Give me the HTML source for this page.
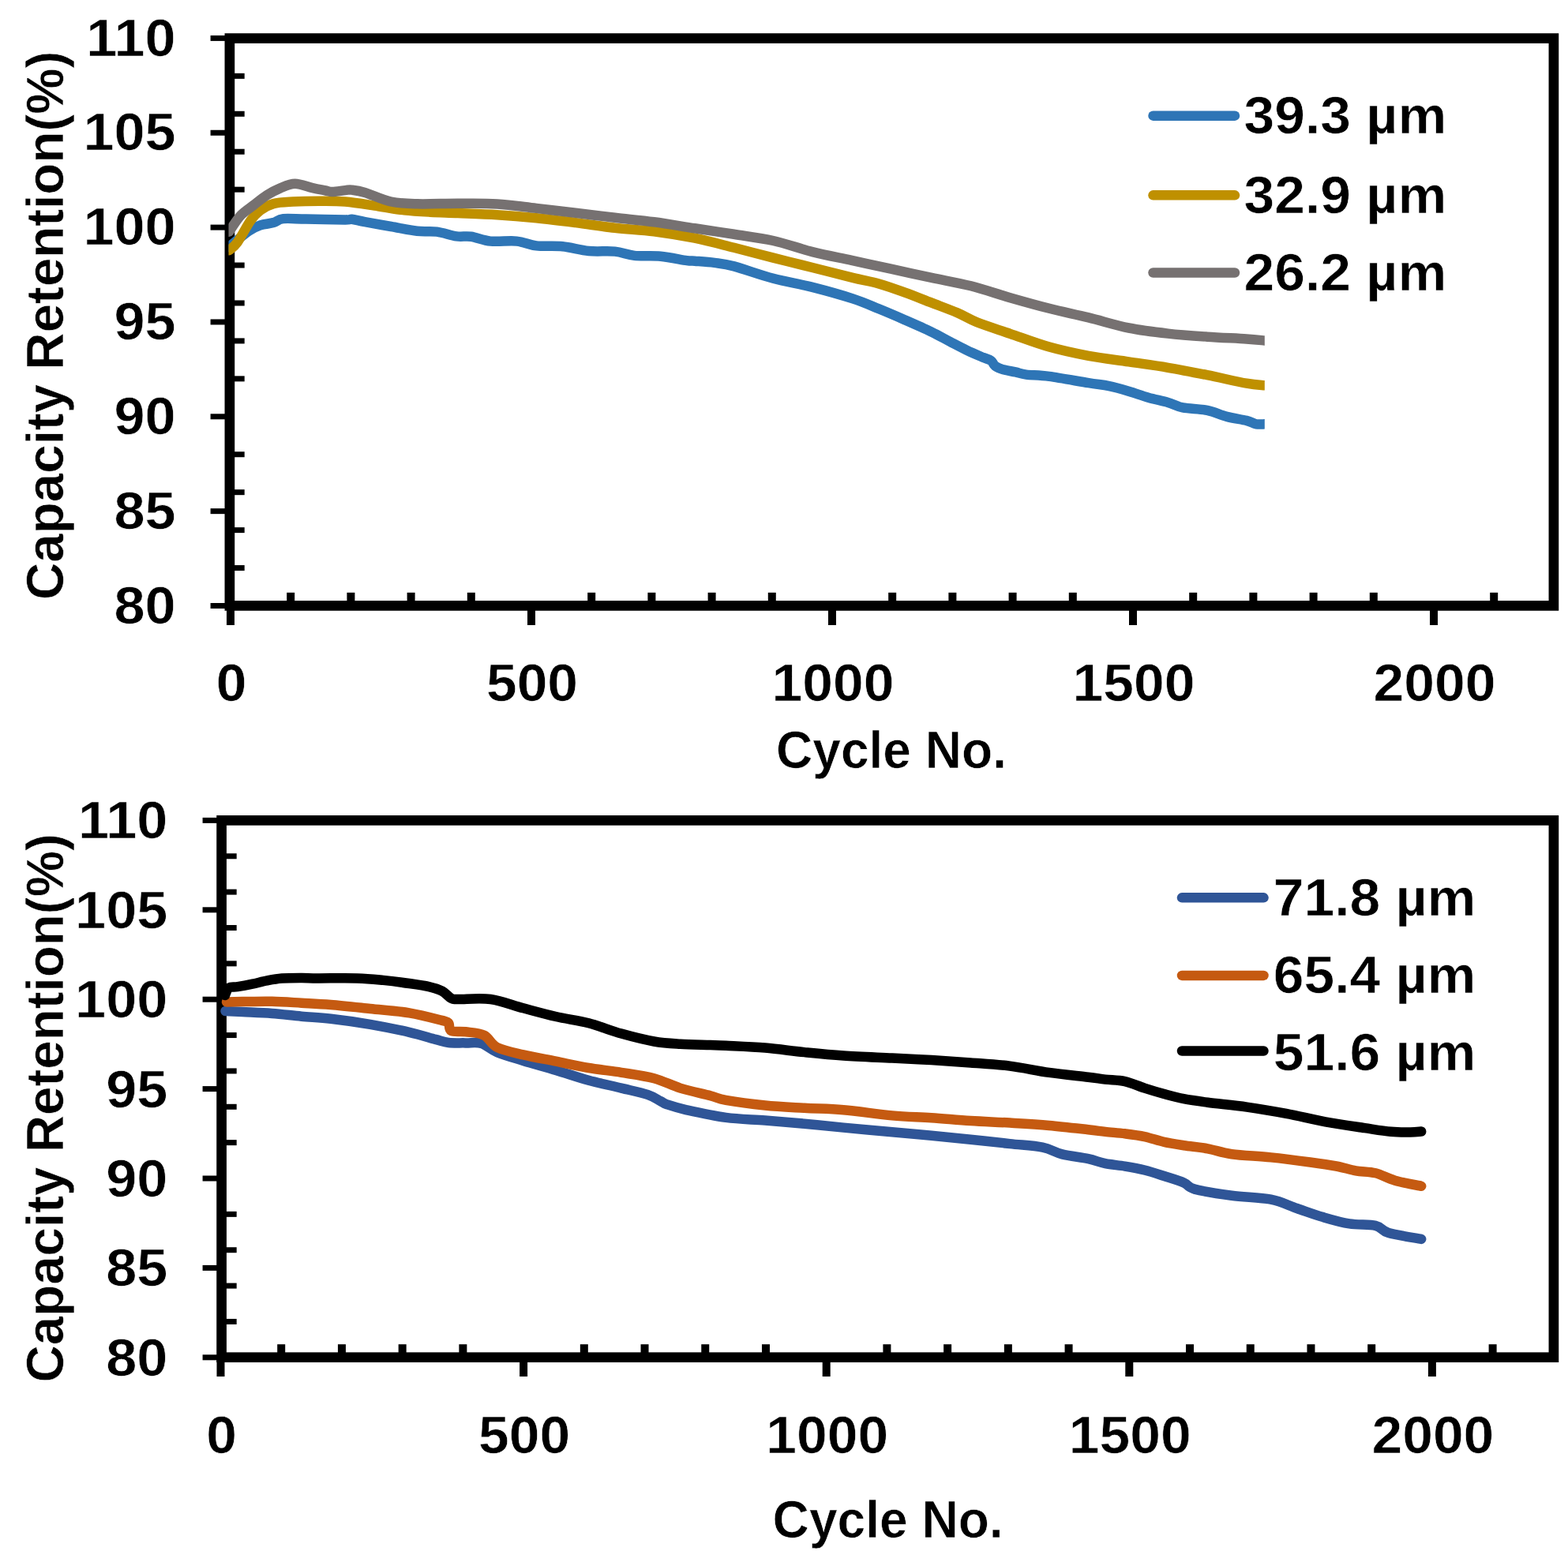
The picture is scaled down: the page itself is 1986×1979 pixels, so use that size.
<!DOCTYPE html>
<html><head><meta charset="utf-8"><title>Capacity retention vs cycle number</title>
<style>
html,body{margin:0;padding:0;background:#fff;}
body{width:1986px;height:1979px;overflow:hidden;}
svg{display:block;}
.t{font-family:'Liberation Sans', 'DejaVu Sans', sans-serif;font-weight:bold;font-size:66px;fill:#000;stroke:#fff;stroke-width:0.6px;paint-order:fill stroke;}
</style></head>
<body>
<svg width="1986" height="1979" viewBox="0 0 1986 1979">
<rect width="1986" height="1979" fill="#fff"/>
<rect x="290.9" y="716.06" width="18.8" height="7"/>
<rect x="290.9" y="668.12" width="18.8" height="7"/>
<rect x="290.9" y="620.18" width="18.8" height="7"/>
<rect x="290.9" y="572.24" width="18.8" height="7"/>
<rect x="290.9" y="476.36" width="18.8" height="7"/>
<rect x="290.9" y="428.42" width="18.8" height="7"/>
<rect x="290.9" y="380.48" width="18.8" height="7"/>
<rect x="290.9" y="332.54" width="18.8" height="7"/>
<rect x="290.9" y="236.66" width="18.8" height="7"/>
<rect x="290.9" y="188.72" width="18.8" height="7"/>
<rect x="290.9" y="140.78" width="18.8" height="7"/>
<rect x="290.9" y="92.84" width="18.8" height="7"/>
<rect x="266.6" y="764" width="24.3" height="7"/>
<rect x="266.6" y="644.15" width="24.3" height="7"/>
<rect x="266.6" y="524.3" width="24.3" height="7"/>
<rect x="266.6" y="404.45" width="24.3" height="7"/>
<rect x="266.6" y="284.6" width="24.3" height="7"/>
<rect x="266.6" y="164.75" width="24.3" height="7"/>
<rect x="266.6" y="44.9" width="24.3" height="7"/>
<rect x="363.2" y="750.8" width="10" height="16.6"/>
<rect x="439.4" y="750.8" width="10" height="16.6"/>
<rect x="515.6" y="750.8" width="10" height="16.6"/>
<rect x="591.8" y="750.8" width="10" height="16.6"/>
<rect x="744.2" y="750.8" width="10" height="16.6"/>
<rect x="820.4" y="750.8" width="10" height="16.6"/>
<rect x="896.6" y="750.8" width="10" height="16.6"/>
<rect x="972.8" y="750.8" width="10" height="16.6"/>
<rect x="1125.2" y="750.8" width="10" height="16.6"/>
<rect x="1201.4" y="750.8" width="10" height="16.6"/>
<rect x="1277.6" y="750.8" width="10" height="16.6"/>
<rect x="1353.8" y="750.8" width="10" height="16.6"/>
<rect x="1506.2" y="750.8" width="10" height="16.6"/>
<rect x="1582.4" y="750.8" width="10" height="16.6"/>
<rect x="1658.6" y="750.8" width="10" height="16.6"/>
<rect x="1734.8" y="750.8" width="10" height="16.6"/>
<rect x="1887.2" y="750.8" width="10" height="16.6"/>
<rect x="287" y="767.4" width="10" height="24.6"/>
<rect x="668" y="767.4" width="10" height="24.6"/>
<rect x="1049" y="767.4" width="10" height="24.6"/>
<rect x="1430" y="767.4" width="10" height="24.6"/>
<rect x="1811" y="767.4" width="10" height="24.6"/>
<rect x="290.9" y="48.55" width="1677" height="718.85" fill="none" stroke="#000" stroke-width="12.7"/>
<clipPath id="ct"><rect x="289.5" y="0" width="1312.3" height="1979"/></clipPath>
<g clip-path="url(#ct)">
<path d="M290,313 C294.13,309.65 308.18,297.5 314.8,292.9 C321.42,288.3 324.45,287.2 329.7,285.4 C334.95,283.6 341.47,283.48 346.3,282.1 C351.13,280.72 351.8,277.85 358.7,277.1 C365.6,276.35 374.6,277.38 387.7,277.6 C400.8,277.82 427.65,278.37 437.3,278.4 C446.95,278.43 441.45,277.33 445.6,277.8 C449.75,278.27 453.92,279.67 462.2,281.2 C470.48,282.73 484.27,285.07 495.3,287 C506.33,288.93 518.73,291.7 528.4,292.8 C538.07,293.9 545.02,292.5 553.3,293.6 C561.58,294.7 570.88,298.37 578.1,299.4 C585.32,300.43 589.38,298.77 596.6,299.8 C603.82,300.83 611.75,304.63 621.4,305.6 C631.05,306.57 644.83,304.63 654.5,305.6 C664.17,306.57 669.73,310.28 679.4,311.4 C689.07,312.52 701.47,311.2 712.5,312.3 C723.53,313.4 734.55,316.95 745.6,318 C756.65,319.05 769.13,317.62 778.8,318.6 C788.47,319.58 793.95,322.88 803.6,323.9 C813.25,324.92 825.65,323.67 836.7,324.7 C847.75,325.73 862.68,329.1 869.9,330.1 C877.12,331.1 874.18,330.23 880,330.7 C885.82,331.17 896.52,331.78 904.8,332.9 C913.08,334.02 917.27,334.08 929.7,337.4 C942.13,340.72 962.85,348.38 979.4,352.8 C995.95,357.22 1012.23,359.63 1029,363.9 C1045.77,368.17 1065.98,373.83 1080,378.4 C1094.02,382.97 1102.05,386.8 1113.1,391.3 C1124.15,395.8 1135.25,400.57 1146.3,405.4 C1157.35,410.23 1169.87,415.7 1179.4,420.3 C1188.93,424.9 1196.03,429.12 1203.5,433 C1210.97,436.88 1217.3,440.3 1224.2,443.6 C1231.1,446.9 1239.72,450.57 1244.9,452.8 C1250.08,455.03 1252.7,455.18 1255.3,457 C1257.9,458.82 1257.92,461.82 1260.5,463.7 C1263.08,465.58 1266.5,467.02 1270.8,468.3 C1275.1,469.58 1281.47,470.35 1286.3,471.4 C1291.13,472.45 1292.68,473.68 1299.8,474.6 C1306.92,475.52 1315.83,475.13 1329,476.9 C1342.17,478.67 1366.17,483.17 1378.8,485.2 C1391.43,487.23 1396.32,487.35 1404.8,489.1 C1413.28,490.85 1421.42,493.27 1429.7,495.7 C1437.98,498.13 1446.22,501.33 1454.5,503.7 C1462.78,506.07 1472.15,507.78 1479.4,509.9 C1486.65,512.02 1489.73,514.73 1498,516.4 C1506.27,518.07 1519.68,517.98 1529,519.9 C1538.32,521.82 1545.6,525.73 1553.9,527.9 C1562.2,530.07 1572.58,531.33 1578.8,532.9 C1585.02,534.47 1587.37,536.57 1591.2,537.3 C1595.03,538.03 1600.03,537.3 1601.8,537.3" fill="none" stroke="#2E75B6" stroke-width="12.5" stroke-linejoin="round" stroke-linecap="round"/>
<path d="M290,317.3 C291.78,315.58 296.15,313.28 300.7,307 C305.25,300.72 312.47,286.37 317.3,279.6 C322.13,272.83 324.87,269.98 329.7,266.4 C334.53,262.82 339.4,259.9 346.3,258.1 C353.2,256.3 361.45,256.15 371.1,255.6 C380.75,255.05 393.17,254.8 404.2,254.8 C415.23,254.8 424.87,254.52 437.3,255.6 C449.73,256.68 466.37,259.52 478.8,261.3 C491.23,263.08 500.87,265.07 511.9,266.3 C522.93,267.53 533.65,268.08 545,268.7 C556.35,269.32 565.88,269.42 580,270 C594.12,270.58 613.13,271.15 629.7,272.2 C646.27,273.25 662.85,274.65 679.4,276.3 C695.95,277.95 712.43,280.03 729,282.1 C745.57,284.17 762.23,286.85 778.8,288.7 C795.37,290.55 811.53,291.03 828.4,293.2 C845.27,295.37 863.12,298.27 880,301.7 C896.88,305.13 913.13,309.65 929.7,313.8 C946.27,317.95 962.85,322.4 979.4,326.6 C995.95,330.8 1012.23,334.78 1029,339 C1045.77,343.22 1065.98,348.5 1080,351.9 C1094.02,355.3 1102.05,356.28 1113.1,359.4 C1124.15,362.52 1135.25,366.6 1146.3,370.6 C1157.35,374.6 1168.37,379.12 1179.4,383.4 C1190.43,387.68 1202.83,392.15 1212.5,396.3 C1222.17,400.45 1226.25,403.88 1237.4,408.3 C1248.55,412.72 1264.13,417.58 1279.4,422.8 C1294.67,428.02 1312.43,434.92 1329,439.6 C1345.57,444.28 1362.02,447.77 1378.8,450.9 C1395.58,454.03 1412.93,455.92 1429.7,458.4 C1446.47,460.88 1462.85,463 1479.4,465.8 C1495.95,468.6 1512.43,471.88 1529,475.2 C1545.57,478.52 1566.67,483.52 1578.8,485.7 C1590.93,487.88 1597.97,487.87 1601.8,488.3" fill="none" stroke="#BF9000" stroke-width="12.5" stroke-linejoin="round" stroke-linecap="round"/>
<path d="M290,293.7 C292.47,290.25 299.57,278.65 304.8,273 C310.03,267.35 315.87,264.08 321.4,259.8 C326.93,255.52 332.48,250.83 338,247.3 C343.52,243.77 348.57,241.02 354.5,238.6 C360.43,236.18 366.7,232.87 373.6,232.8 C380.5,232.73 389.42,236.75 395.9,238.2 C402.38,239.65 408.35,240.68 412.5,241.5 C416.65,242.32 416.67,243.17 420.8,243.1 C424.93,243.03 433.17,241.52 437.3,241.1 C441.43,240.68 441.45,240.13 445.6,240.6 C449.75,241.07 453.92,241.42 462.2,243.9 C470.48,246.38 484.27,253.1 495.3,255.5 C506.33,257.9 514.28,257.92 528.4,258.3 C542.52,258.68 563.12,257.78 580,257.8 C596.88,257.82 613.13,257.38 629.7,258.4 C646.27,259.42 662.85,262.02 679.4,263.9 C695.95,265.78 712.43,267.72 729,269.7 C745.57,271.68 762.23,273.87 778.8,275.8 C795.37,277.73 811.53,279.05 828.4,281.3 C845.27,283.55 863.12,286.72 880,289.3 C896.88,291.88 913.13,294.18 929.7,296.8 C946.27,299.42 962.85,301.28 979.4,305 C995.95,308.72 1012.43,314.95 1029,319.1 C1045.57,323.25 1062.23,326.3 1078.8,329.9 C1095.37,333.5 1111.53,337.03 1128.4,340.7 C1145.27,344.37 1163.12,348.3 1180,351.9 C1196.88,355.5 1213.13,358.08 1229.7,362.3 C1246.27,366.52 1262.85,372.45 1279.4,377.2 C1295.95,381.95 1312.43,386.6 1329,390.8 C1345.57,395 1362.02,398.28 1378.8,402.4 C1395.58,406.52 1412.93,412.13 1429.7,415.5 C1446.47,418.87 1462.85,420.73 1479.4,422.6 C1495.95,424.47 1512.43,425.57 1529,426.7 C1545.57,427.83 1566.67,428.6 1578.8,429.4 C1590.93,430.2 1597.97,431.15 1601.8,431.5" fill="none" stroke="#767171" stroke-width="12.5" stroke-linejoin="round" stroke-linecap="round"/>
</g>
<line x1="1460.5" y1="146.7" x2="1564" y2="146.7" stroke="#2E75B6" stroke-width="12.5" stroke-linecap="round"/>
<text class="t" transform="translate(1575.6,168.7) scale(1.054,1)">39.3 µm</text>
<line x1="1460.5" y1="247.3" x2="1564" y2="247.3" stroke="#BF9000" stroke-width="12.5" stroke-linecap="round"/>
<text class="t" transform="translate(1575.6,269.8) scale(1.054,1)">32.9 µm</text>
<line x1="1460.5" y1="345.5" x2="1564" y2="345.5" stroke="#767171" stroke-width="12.5" stroke-linecap="round"/>
<text class="t" transform="translate(1575.6,368.3) scale(1.054,1)">26.2 µm</text>
<text class="t" transform="translate(222.7,789.7) scale(1.065,1)" text-anchor="end">80</text>
<text class="t" transform="translate(222.7,669.85) scale(1.065,1)" text-anchor="end">85</text>
<text class="t" transform="translate(222.7,550) scale(1.065,1)" text-anchor="end">90</text>
<text class="t" transform="translate(222.7,430.15) scale(1.065,1)" text-anchor="end">95</text>
<text class="t" transform="translate(222.7,310.3) scale(1.065,1)" text-anchor="end">100</text>
<text class="t" transform="translate(222.7,190.45) scale(1.065,1)" text-anchor="end">105</text>
<text class="t" transform="translate(222.7,70.6) scale(1.065,1)" text-anchor="end">110</text>
<text class="t" transform="translate(293,888.3) scale(1.055,1)" text-anchor="middle">0</text>
<text class="t" transform="translate(674,888.3) scale(1.055,1)" text-anchor="middle">500</text>
<text class="t" transform="translate(1055,888.3) scale(1.055,1)" text-anchor="middle">1000</text>
<text class="t" transform="translate(1436,888.3) scale(1.055,1)" text-anchor="middle">1500</text>
<text class="t" transform="translate(1817,888.3) scale(1.055,1)" text-anchor="middle">2000</text>
<text class="t" transform="translate(983,972.5) scale(0.971,1)">Cycle No.</text>
<text class="t" transform="translate(79.6,760) rotate(-90) scale(0.993,1)">Capacity Retention(%)</text>
<rect x="280.6" y="1670.94" width="19.1" height="7"/>
<rect x="280.6" y="1625.58" width="19.1" height="7"/>
<rect x="280.6" y="1580.22" width="19.1" height="7"/>
<rect x="280.6" y="1534.86" width="19.1" height="7"/>
<rect x="280.6" y="1444.14" width="19.1" height="7"/>
<rect x="280.6" y="1398.78" width="19.1" height="7"/>
<rect x="280.6" y="1353.42" width="19.1" height="7"/>
<rect x="280.6" y="1308.06" width="19.1" height="7"/>
<rect x="280.6" y="1217.34" width="19.1" height="7"/>
<rect x="280.6" y="1171.98" width="19.1" height="7"/>
<rect x="280.6" y="1126.62" width="19.1" height="7"/>
<rect x="280.6" y="1081.26" width="19.1" height="7"/>
<rect x="256.6" y="1716.3" width="24" height="7"/>
<rect x="256.6" y="1602.9" width="24" height="7"/>
<rect x="256.6" y="1489.5" width="24" height="7"/>
<rect x="256.6" y="1376.1" width="24" height="7"/>
<rect x="256.6" y="1262.7" width="24" height="7"/>
<rect x="256.6" y="1149.3" width="24" height="7"/>
<rect x="256.6" y="1035.9" width="24" height="7"/>
<rect x="351.22" y="1703.2" width="10" height="16.5"/>
<rect x="427.94" y="1703.2" width="10" height="16.5"/>
<rect x="504.66" y="1703.2" width="10" height="16.5"/>
<rect x="581.38" y="1703.2" width="10" height="16.5"/>
<rect x="734.82" y="1703.2" width="10" height="16.5"/>
<rect x="811.54" y="1703.2" width="10" height="16.5"/>
<rect x="888.26" y="1703.2" width="10" height="16.5"/>
<rect x="964.98" y="1703.2" width="10" height="16.5"/>
<rect x="1118.42" y="1703.2" width="10" height="16.5"/>
<rect x="1195.14" y="1703.2" width="10" height="16.5"/>
<rect x="1271.86" y="1703.2" width="10" height="16.5"/>
<rect x="1348.58" y="1703.2" width="10" height="16.5"/>
<rect x="1502.02" y="1703.2" width="10" height="16.5"/>
<rect x="1578.74" y="1703.2" width="10" height="16.5"/>
<rect x="1655.46" y="1703.2" width="10" height="16.5"/>
<rect x="1732.18" y="1703.2" width="10" height="16.5"/>
<rect x="1885.62" y="1703.2" width="10" height="16.5"/>
<rect x="274.5" y="1719.7" width="10" height="24.3"/>
<rect x="658.1" y="1719.7" width="10" height="24.3"/>
<rect x="1041.7" y="1719.7" width="10" height="24.3"/>
<rect x="1425.3" y="1719.7" width="10" height="24.3"/>
<rect x="1808.9" y="1719.7" width="10" height="24.3"/>
<rect x="280.6" y="1039.4" width="1687.3" height="680.3" fill="none" stroke="#000" stroke-width="12.7"/>
<path d="M285.5,1281 C289.13,1281.18 297.47,1281.6 307.3,1282.1 C317.13,1282.6 332.08,1283.07 344.5,1284 C356.92,1284.93 369.38,1286.58 381.8,1287.7 C394.22,1288.82 404.5,1289.02 419,1290.7 C433.5,1292.38 452.23,1294.95 468.8,1297.8 C485.37,1300.65 504.6,1304.62 518.4,1307.8 C532.2,1310.98 543.32,1314.7 551.6,1316.9 C559.88,1319.1 561.75,1320.25 568.1,1321 C574.45,1321.75 582.75,1321.23 589.7,1321.4 C596.65,1321.57 603.13,1320.05 609.8,1322 C616.47,1323.95 620.87,1329.45 629.7,1333.1 C638.53,1336.75 650.38,1340.1 662.8,1343.9 C675.22,1347.7 690.4,1351.77 704.2,1355.9 C718,1360.03 731.8,1364.92 745.6,1368.7 C759.4,1372.48 774.57,1375.57 787,1378.6 C799.43,1381.63 811.92,1384.13 820.2,1386.9 C828.48,1389.67 832.6,1393.13 836.7,1395.2 C840.8,1397.27 839.3,1397.45 844.8,1399.3 C850.3,1401.15 857.27,1403.53 869.7,1406.3 C882.13,1409.07 902.83,1413.7 919.4,1415.9 C935.97,1418.1 952.53,1418.2 969.1,1419.5 C985.67,1420.8 1002.25,1422.18 1018.8,1423.7 C1035.35,1425.22 1049.87,1426.85 1068.4,1428.6 C1086.93,1430.35 1111.45,1432.52 1130,1434.2 C1148.55,1435.88 1163.13,1437.12 1179.7,1438.7 C1196.27,1440.28 1212.83,1441.97 1229.4,1443.7 C1245.97,1445.43 1263.92,1447.45 1279.1,1449.1 C1294.28,1450.75 1309.47,1451.38 1320.5,1453.6 C1331.53,1455.82 1335.65,1459.97 1345.3,1462.4 C1354.95,1464.83 1369.28,1466.23 1378.4,1468.2 C1387.52,1470.17 1392.27,1472.63 1400,1474.2 C1407.73,1475.77 1416.52,1476.22 1424.8,1477.6 C1433.08,1478.98 1441.42,1480.43 1449.7,1482.5 C1457.98,1484.57 1466.22,1487.35 1474.5,1490 C1482.78,1492.65 1492.97,1495.63 1499.4,1498.4 C1505.83,1501.17 1503,1503.88 1513.1,1506.6 C1523.2,1509.32 1543.9,1512.52 1560,1514.7 C1576.1,1516.88 1595.9,1516.98 1609.7,1519.7 C1623.5,1522.42 1631.77,1527.27 1642.8,1531 C1653.83,1534.73 1664.85,1538.87 1675.9,1542.1 C1686.95,1545.33 1698.05,1548.62 1709.1,1550.4 C1720.15,1552.18 1733.92,1550.87 1742.2,1552.8 C1750.48,1554.73 1749.13,1559.15 1758.8,1562 C1768.47,1564.85 1793.3,1568.58 1800.2,1569.9" fill="none" stroke="#2F5597" stroke-width="12.5" stroke-linejoin="round" stroke-linecap="round"/>
<path d="M287,1269.4 C290.38,1269.35 297.72,1269.2 307.3,1269.1 C316.88,1269 332.08,1268.53 344.5,1268.8 C356.92,1269.07 369.38,1270 381.8,1270.7 C394.22,1271.4 404.5,1271.78 419,1273 C433.5,1274.22 452.23,1276.28 468.8,1278 C485.37,1279.72 503.22,1280.82 518.4,1283.3 C533.58,1285.78 551.62,1290.75 559.9,1292.9 C568.18,1295.05 566.18,1294.02 568.1,1296.2 C570.02,1298.38 567.8,1304.15 571.4,1306 C575,1307.85 582.75,1306.37 589.7,1307.3 C596.65,1308.23 606.43,1308.32 613.1,1311.6 C619.77,1314.88 621.42,1322.87 629.7,1327 C637.98,1331.13 650.38,1333.45 662.8,1336.4 C675.22,1339.35 690.4,1341.93 704.2,1344.7 C718,1347.47 731.8,1350.65 745.6,1353 C759.4,1355.35 773.2,1356.6 787,1358.8 C800.8,1361 815.97,1362.9 828.4,1366.2 C840.83,1369.5 849.72,1374.93 861.6,1378.6 C873.48,1382.27 890.07,1385.65 899.7,1388.2 C909.33,1390.75 907.83,1391.85 919.4,1393.9 C930.97,1395.95 952.53,1398.85 969.1,1400.5 C985.67,1402.15 1002.25,1402.83 1018.8,1403.8 C1035.35,1404.77 1049.87,1404.7 1068.4,1406.3 C1086.93,1407.9 1111.45,1411.73 1130,1413.4 C1148.55,1415.07 1163.13,1415.18 1179.7,1416.3 C1196.27,1417.42 1212.83,1419.05 1229.4,1420.1 C1245.97,1421.15 1262.53,1421.63 1279.1,1422.6 C1295.67,1423.57 1312.25,1424.47 1328.8,1425.9 C1345.35,1427.33 1366.53,1429.87 1378.4,1431.2 C1390.27,1432.53 1392.27,1433.05 1400,1433.9 C1407.73,1434.75 1416.52,1435.27 1424.8,1436.3 C1433.08,1437.33 1441.42,1438.33 1449.7,1440.1 C1457.98,1441.87 1466.22,1445.05 1474.5,1446.9 C1482.78,1448.75 1490.2,1449.8 1499.4,1451.2 C1508.6,1452.6 1519.6,1453.47 1529.7,1455.3 C1539.8,1457.13 1546.67,1460.35 1560,1462.2 C1573.33,1464.05 1593.13,1464.68 1609.7,1466.4 C1626.27,1468.12 1645.6,1470.65 1659.4,1472.5 C1673.2,1474.35 1682.85,1475.7 1692.5,1477.5 C1702.15,1479.3 1709.02,1481.83 1717.3,1483.3 C1725.58,1484.77 1733.92,1484.23 1742.2,1486.3 C1750.48,1488.37 1757.33,1492.95 1767,1495.7 C1776.67,1498.45 1794.67,1501.62 1800.2,1502.8" fill="none" stroke="#C55A11" stroke-width="12.5" stroke-linejoin="round" stroke-linecap="round"/>
<path d="M285,1261 C285.83,1259.42 287.33,1253.3 290,1251.5 C292.67,1249.7 296.05,1251 301,1250.2 C305.95,1249.4 313.48,1248 319.7,1246.7 C325.92,1245.4 332.08,1243.58 338.3,1242.4 C344.52,1241.22 349.75,1240.17 357,1239.6 C364.25,1239.03 374.22,1239.03 381.8,1239 C389.38,1238.97 390.77,1239.33 402.5,1239.4 C414.23,1239.47 438.4,1238.98 452.2,1239.4 C466,1239.82 474.27,1240.8 485.3,1241.9 C496.33,1243 508.73,1244.63 518.4,1246 C528.07,1247.37 536.38,1248.5 543.3,1250.1 C550.22,1251.7 555.22,1253.17 559.9,1255.6 C564.58,1258.03 568.05,1262.97 571.4,1264.7 C574.75,1266.43 571.67,1265.78 580,1266 C588.33,1266.22 607.6,1264.12 621.4,1266 C635.2,1267.88 649,1273.63 662.8,1277.3 C676.6,1280.97 690.4,1284.83 704.2,1288 C718,1291.17 731.8,1292.7 745.6,1296.3 C759.4,1299.9 773.2,1305.73 787,1309.6 C800.8,1313.47 815.97,1317.3 828.4,1319.5 C840.83,1321.7 849.72,1322.05 861.6,1322.8 C873.48,1323.55 890.07,1323.67 899.7,1324 C909.33,1324.33 907.83,1324.2 919.4,1324.8 C930.97,1325.4 952.53,1326.22 969.1,1327.6 C985.67,1328.98 1002.25,1331.45 1018.8,1333.1 C1035.35,1334.75 1049.87,1336.25 1068.4,1337.5 C1086.93,1338.75 1111.45,1339.67 1130,1340.6 C1148.55,1341.53 1163.13,1342.13 1179.7,1343.1 C1196.27,1344.07 1212.83,1345.15 1229.4,1346.4 C1245.97,1347.65 1262.53,1348.52 1279.1,1350.6 C1295.67,1352.68 1312.25,1356.55 1328.8,1358.9 C1345.35,1361.25 1366.53,1363.25 1378.4,1364.7 C1390.27,1366.15 1392.27,1366.7 1400,1367.6 C1407.73,1368.5 1416.52,1368.27 1424.8,1370.1 C1433.08,1371.93 1441.42,1375.95 1449.7,1378.6 C1457.98,1381.25 1466.22,1383.73 1474.5,1386 C1482.78,1388.27 1490.2,1390.4 1499.4,1392.2 C1508.6,1394 1516.37,1395.07 1529.7,1396.8 C1543.03,1398.53 1562.83,1400.25 1579.4,1402.6 C1595.97,1404.95 1612.53,1407.78 1629.1,1410.9 C1645.67,1414.02 1662.25,1418.27 1678.8,1421.3 C1695.35,1424.33 1714.6,1427.02 1728.4,1429.1 C1742.2,1431.18 1751.93,1432.88 1761.6,1433.8 C1771.27,1434.72 1779.97,1434.63 1786.4,1434.6 C1792.83,1434.57 1797.9,1433.77 1800.2,1433.6" fill="none" stroke="#000000" stroke-width="12.5" stroke-linejoin="round" stroke-linecap="round"/>
<line x1="1497" y1="1137.3" x2="1600.5" y2="1137.3" stroke="#2F5597" stroke-width="12.5" stroke-linecap="round"/>
<text class="t" transform="translate(1612.8,1160) scale(1.054,1)">71.8 µm</text>
<line x1="1497" y1="1235.9" x2="1600.5" y2="1235.9" stroke="#C55A11" stroke-width="12.5" stroke-linecap="round"/>
<text class="t" transform="translate(1612.8,1257.8) scale(1.054,1)">65.4 µm</text>
<line x1="1497" y1="1331.5" x2="1600.5" y2="1331.5" stroke="#000000" stroke-width="12.5" stroke-linecap="round"/>
<text class="t" transform="translate(1612.8,1355.7) scale(1.054,1)">51.6 µm</text>
<text class="t" transform="translate(212.3,1742.8) scale(1.065,1)" text-anchor="end">80</text>
<text class="t" transform="translate(212.3,1629.4) scale(1.065,1)" text-anchor="end">85</text>
<text class="t" transform="translate(212.3,1516) scale(1.065,1)" text-anchor="end">90</text>
<text class="t" transform="translate(212.3,1402.6) scale(1.065,1)" text-anchor="end">95</text>
<text class="t" transform="translate(212.3,1289.2) scale(1.065,1)" text-anchor="end">100</text>
<text class="t" transform="translate(212.3,1175.8) scale(1.065,1)" text-anchor="end">105</text>
<text class="t" transform="translate(212.3,1062.4) scale(1.065,1)" text-anchor="end">110</text>
<text class="t" transform="translate(280.5,1840.5) scale(1.055,1)" text-anchor="middle">0</text>
<text class="t" transform="translate(664.1,1840.5) scale(1.055,1)" text-anchor="middle">500</text>
<text class="t" transform="translate(1047.7,1840.5) scale(1.055,1)" text-anchor="middle">1000</text>
<text class="t" transform="translate(1431.3,1840.5) scale(1.055,1)" text-anchor="middle">1500</text>
<text class="t" transform="translate(1814.9,1840.5) scale(1.055,1)" text-anchor="middle">2000</text>
<text class="t" transform="translate(978.6,1948) scale(0.971,1)">Cycle No.</text>
<text class="t" transform="translate(79.5,1751.6) rotate(-90) scale(0.993,1)">Capacity Retention(%)</text>
</svg>
</body></html>
